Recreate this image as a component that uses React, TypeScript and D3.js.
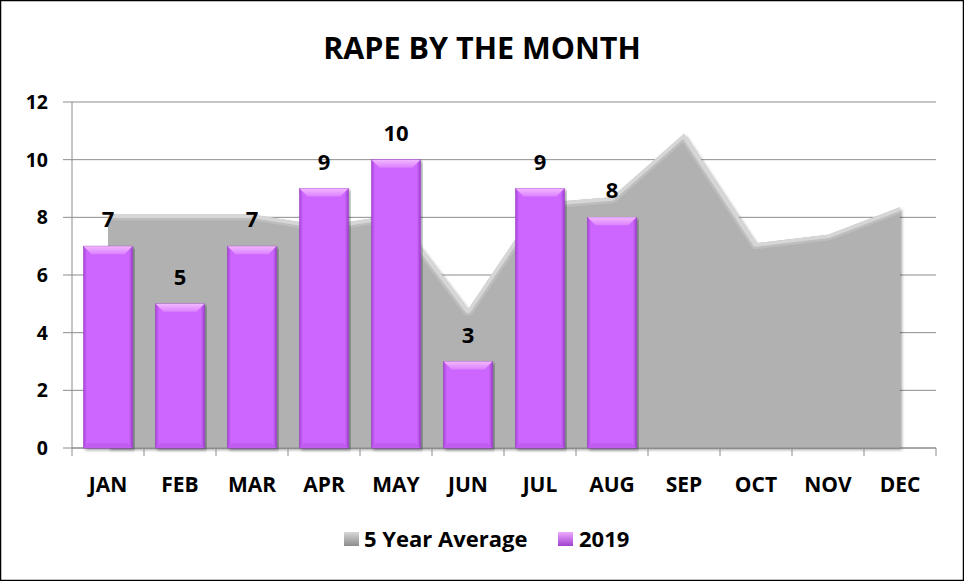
import React from "react";
import * as d3 from "d3";

const months = ["JAN", "FEB", "MAR", "APR", "MAY", "JUN", "JUL", "AUG", "SEP", "OCT", "NOV", "DEC"];
const fiveYearAvg = [8.1, 8.1, 8.1, 7.7, 8.1, 4.8, 8.5, 8.7, 10.9, 7.1, 7.4, 8.35];
const values2019 = [7, 5, 7, 9, 10, 3, 9, 8];
const yTicks = [0, 2, 4, 6, 8, 10, 12];
const legendLabels = ["5 Year Average", "2019"];

const W = 964, H = 581;
const m = { left: 72, right: 28, top: 102, bottom: 133 };
const FONT = "'Open Sans', 'DejaVu Sans', sans-serif";

export default function App() {
  const x = d3.scaleBand<string>().domain(months).range([m.left, W - m.right]).paddingInner(0).paddingOuter(0);
  const y = d3.scaleLinear().domain([0, 12]).range([H - m.bottom, m.top]);
  const bw = x.bandwidth();
  const barW = bw * 0.68;
  const cx = (i: number) => (x(months[i]) as number) + bw / 2;

  const area = d3.area<number>().x((_, i) => cx(i)).y0(y(0)).y1((d) => y(d));
  const line = d3.line<number>().x((_, i) => cx(i)).y((d) => y(d));

  return (
    <svg width={W} height={H} style={{ display: "block", position: "absolute", left: 0, top: 0 }}>
      <defs>
        <linearGradient id="barG" x1="0" x2="1" y1="0" y2="0">
          <stop offset="0" stopColor="#a847d6" />
          <stop offset="0.07" stopColor="#cc66ff" />
          <stop offset="0.93" stopColor="#cc66ff" />
          <stop offset="1" stopColor="#9c3fcc" />
        </linearGradient>
        <linearGradient id="bevelG" x1="0" x2="0" y1="0" y2="1">
          <stop offset="0" stopColor="#f2b8ff" />
          <stop offset="1" stopColor="#dc80ff" />
        </linearGradient>
        <linearGradient id="legGray" x1="0" x2="0" y1="0" y2="1">
          <stop offset="0" stopColor="#d8d8d8" />
          <stop offset="1" stopColor="#8c8c8c" />
        </linearGradient>
        <linearGradient id="legPurp" x1="0" x2="0" y1="0" y2="1">
          <stop offset="0" stopColor="#eeaaff" />
          <stop offset="1" stopColor="#a040d0" />
        </linearGradient>
        <filter id="shadow" x="-5%" y="-5%" width="110%" height="110%">
          <feDropShadow dx="2" dy="2" stdDeviation="1.5" floodColor="#000" floodOpacity="0.35" />
        </filter>
        <clipPath id="areaClip">
          <path d={area(fiveYearAvg) as string} />
        </clipPath>
      </defs>
      <rect x={0.5} y={0.5} width={W - 1} height={H - 1} fill="#fff" stroke="#000" strokeWidth={1.5} />
      <text x={482} y={59} textAnchor="middle" fontFamily={FONT} fontWeight="bold" fontSize={30.5} fill="#000">
        RAPE BY THE MONTH
      </text>

      {/* gridlines */}
      {yTicks.map((t) => (
        <line key={t} x1={m.left - 9} x2={W - m.right} y1={y(t)} y2={y(t)} stroke="#8c8c8c" strokeWidth={1} />
      ))}

      {/* area */}
      <path d={area(fiveYearAvg) as string} fill="#b1b1b1" filter="url(#shadow)" />
      <g clipPath="url(#areaClip)">
        <path d={line(fiveYearAvg) as string} fill="none" stroke="#e2e2e2" strokeWidth={7} strokeLinejoin="round" />
        <path d={line(fiveYearAvg) as string} fill="none" stroke="#c9c9c9" strokeWidth={12} strokeOpacity={0.5} strokeLinejoin="round" />
      </g>

      {/* axes */}
      <line x1={m.left} x2={m.left} y1={m.top} y2={y(0)} stroke="#8c8c8c" />
      <line x1={m.left} x2={W - m.right} y1={y(0)} y2={y(0)} stroke="#8c8c8c" />
      {months.map((mo) => (
        <line key={mo} x1={(x(mo) as number)} x2={(x(mo) as number)} y1={y(0)} y2={y(0) + 8} stroke="#8c8c8c" />
      ))}
      <line x1={W - m.right} x2={W - m.right} y1={y(0)} y2={y(0) + 8} stroke="#8c8c8c" />

      {/* bars */}
      {values2019.map((v, i) => {
        const bx = cx(i) - barW / 2;
        const by = y(v);
        const bh = y(0) - by;
        const bev = 8;
        return (
          <g key={i}>
            <rect x={bx} y={by} width={barW} height={bh} fill="url(#barG)" stroke="#9a3fc8" strokeWidth={0.6} filter="url(#shadow)" />
            <path d={`M${bx},${by} L${bx + barW},${by} L${bx + barW - bev},${by + bev} L${bx + bev},${by + bev} Z`} fill="url(#bevelG)" />
            <path d={`M${bx},${by + bh} L${bx + barW},${by + bh} L${bx + barW - 5},${by + bh - 5} L${bx + 5},${by + bh - 5} Z`} fill="#c05cf0" />
            <text x={cx(i)} y={by - 19} textAnchor="middle" fontFamily={FONT} fontWeight="bold" fontSize={22} fill="#000">
              {v}
            </text>
          </g>
        );
      })}

      {/* y labels */}
      {yTicks.map((t) => (
        <text key={t} x={48} y={y(t) + 7} textAnchor="end" fontFamily={FONT} fontWeight="bold" fontSize={19.5} fill="#000">
          {t}
        </text>
      ))}
      {/* x labels */}
      {months.map((mo, i) => (
        <text key={mo} x={cx(i)} y={492} textAnchor="middle" fontFamily={FONT} fontWeight="bold" fontSize={21} fill="#000">
          {mo}
        </text>
      ))}

      {/* legend */}
      <rect x={344} y={532} width={15} height={14} fill="url(#legGray)" />
      <text x={364} y={547} fontFamily={FONT} fontWeight="bold" fontSize={22} fill="#000">{legendLabels[0]}</text>
      <rect x={558} y={532} width={15} height={14} fill="url(#legPurp)" />
      <text x={579} y={547} fontFamily={FONT} fontWeight="bold" fontSize={22} fill="#000">{legendLabels[1]}</text>
    </svg>
  );
}
